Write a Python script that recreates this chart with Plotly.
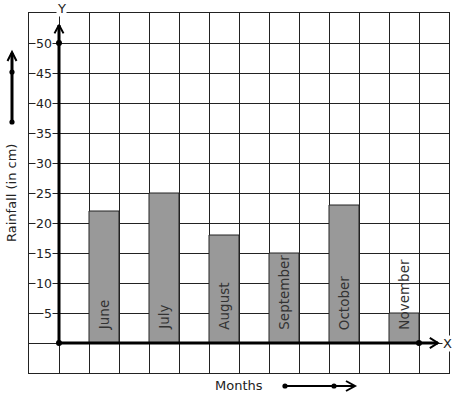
import plotly.graph_objects as go

months = ["June", "July", "August", "September", "October", "November"]
rainfall = [22, 25, 18, 15, 23, 5]
bar_pos = [1.5, 3.5, 5.5, 7.5, 9.5, 11.5]
y_ticks = [5, 10, 15, 20, 25, 30, 35, 40, 45, 50]

FONT = "DejaVu Sans"
W, H = 457, 399
L, T = 29, 13
PW, PH = 420, 360
R, B = W - L - PW, H - T - PH


def pxx(p):
    return (p - L) / PW


def pxy(p):
    return (T + PH - p) / PH


fig = go.Figure()

fig.add_trace(go.Bar(
    x=bar_pos, y=rainfall, width=1,
    marker=dict(color="#999999", line=dict(color="#222222", width=1)),
    hoverinfo="skip",
))

# axis lines with arrows
fig.add_trace(go.Scatter(x=[0, 0], y=[0, 53], mode="lines",
                         line=dict(color="black", width=3), hoverinfo="skip"))
fig.add_trace(go.Scatter(x=[-0.15, 0, 0.15], y=[51.6, 53, 51.6], mode="lines",
                         line=dict(color="black", width=2), hoverinfo="skip"))
fig.add_trace(go.Scatter(x=[0, 12.63], y=[0, 0], mode="lines",
                         line=dict(color="black", width=3), hoverinfo="skip"))
fig.add_trace(go.Scatter(x=[12.36, 12.63, 12.36], y=[-0.85, 0, 0.85], mode="lines",
                         line=dict(color="black", width=2), hoverinfo="skip"))
fig.add_trace(go.Scatter(x=[0, 0, 12], y=[50, 0, 0], mode="markers",
                         marker=dict(color="black", size=6), cliponaxis=False,
                         hoverinfo="skip"))

annotations = []
for v in y_ticks:
    annotations.append(dict(x=pxx(53), xref="paper", y=v, yref="y", text=str(v),
                            xanchor="right", yanchor="middle", showarrow=False,
                            bgcolor="white", borderpad=0,
                            font=dict(family=FONT, size=12.5, color="#222222")))
for m, xp in zip(months, bar_pos):
    annotations.append(dict(x=xp, y=1.8, xref="x", yref="y", text=m, textangle=-90,
                            xanchor="center", yanchor="bottom", showarrow=False,
                            font=dict(family=FONT, size=13.5, color="#333333")))

annotations += [
    dict(x=pxx(11), y=pxy(193), xref="paper", yref="paper", text="Rainfall (in cm)",
         textangle=-90, showarrow=False, xanchor="center", yanchor="middle",
         font=dict(family=FONT, size=13, color="#222222")),
    dict(x=pxx(239), y=pxy(385), xref="paper", yref="paper", text="Months",
         showarrow=False, xanchor="center", yanchor="middle",
         font=dict(family=FONT, size=13, color="#222222")),
    dict(x=pxx(61), y=pxy(8), xref="paper", yref="paper", text="Y",
         showarrow=False, xanchor="center", yanchor="middle", bgcolor="white", borderpad=0,
         font=dict(family=FONT, size=13, color="#222222")),
    dict(x=pxx(447), y=pxy(343), xref="paper", yref="paper", text="X",
         showarrow=False, xanchor="center", yanchor="middle", bgcolor="white", borderpad=0,
         font=dict(family=FONT, size=13, color="#222222")),
]

shapes = []
# left decorative arrow
shapes.append(dict(type="line", xref="paper", yref="paper",
                   x0=pxx(12), x1=pxx(12), y0=pxy(122), y1=pxy(53),
                   line=dict(color="black", width=3)))
shapes.append(dict(type="path", xref="paper", yref="paper",
                   path=f"M {pxx(7.5)},{pxy(61)} L {pxx(12)},{pxy(52)} L {pxx(16.5)},{pxy(61)}",
                   line=dict(color="black", width=2)))
# bottom decorative arrow
shapes.append(dict(type="line", xref="paper", yref="paper",
                   x0=pxx(285), x1=pxx(355), y0=pxy(386), y1=pxy(386),
                   line=dict(color="black", width=2)))
shapes.append(dict(type="path", xref="paper", yref="paper",
                   path=f"M {pxx(346)},{pxy(381)} L {pxx(355)},{pxy(386)} L {pxx(346)},{pxy(391)}",
                   line=dict(color="black", width=2)))
for (cx, cy) in [(12, 72), (12, 122), (285, 386), (334, 386)]:
    shapes.append(dict(type="circle", xref="paper", yref="paper",
                       xsizemode="pixel", ysizemode="pixel",
                       xanchor=pxx(cx), yanchor=pxy(cy),
                       x0=-2.6, x1=2.6, y0=-2.6, y1=2.6,
                       fillcolor="black", line=dict(color="black", width=0)))

fig.update_layout(
    width=W, height=H,
    margin=dict(l=L, r=R, t=T, b=B, pad=0),
    paper_bgcolor="white", plot_bgcolor="white",
    showlegend=False,
    bargap=0,
    annotations=annotations,
    shapes=shapes,
    xaxis=dict(range=[-1, 13], tick0=0, dtick=1, showgrid=True, gridcolor="#222222",
               gridwidth=1, zeroline=False, showticklabels=False, ticks="",
               showline=True, mirror=True, linecolor="#222222", linewidth=1,
               fixedrange=True),
    yaxis=dict(range=[-5, 55], tick0=0, dtick=5, showgrid=True, gridcolor="#222222",
               gridwidth=1, zeroline=False, showticklabels=False, ticks="",
               showline=True, mirror=True, linecolor="#222222", linewidth=1,
               fixedrange=True),
    font=dict(family=FONT),
)

fig.write_html("out.html",
               config={"displayModeBar": False, "staticPlot": True},
               post_script="document.body.style.margin='0';"
                           "document.body.style.overflow='hidden';")
